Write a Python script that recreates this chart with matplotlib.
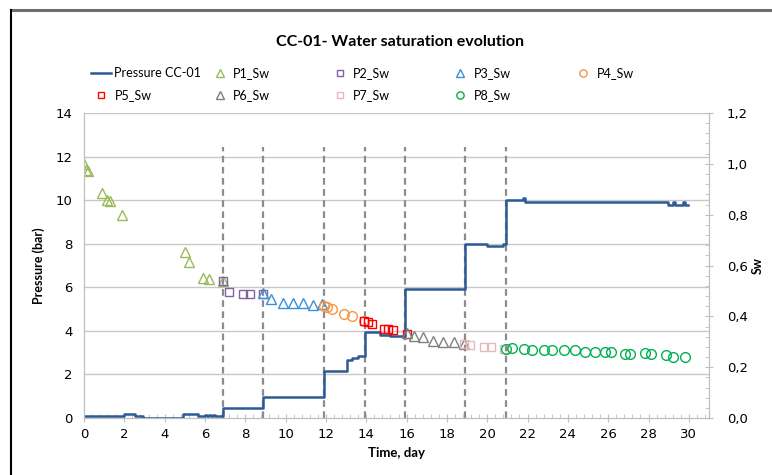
import matplotlib
matplotlib.use("Agg")
import matplotlib.pyplot as plt
from matplotlib.lines import Line2D
from matplotlib.ticker import MultipleLocator, FuncFormatter

# pressure record (bar), step curve
time_p = [0, 2.0, 2.55, 2.95, 4.9, 5.65, 6.0, 6.08, 6.2, 6.28, 6.4, 6.48, 6.88, 8.88,
          11.88, 13.02, 13.3, 13.6, 13.92, 14.7, 15.2, 15.92, 18.88, 20.0, 20.8, 20.92,
          21.75, 21.85, 28.95, 29.2, 29.3, 29.7, 29.8, 29.95]
pressure = [0.1, 0.2, 0.1, 0.0, 0.2, 0.1, 0.15, 0.1, 0.15, 0.1, 0.15, 0.1, 0.48, 0.96,
            2.16, 2.66, 2.75, 2.86, 3.95, 3.8, 3.75, 5.9, 7.98, 7.88, 8.0, 10.0,
            10.1, 9.9, 9.8, 9.9, 9.8, 9.9, 9.8, 9.8]

# pressure step changes (dashed markers)
events = [6.88, 8.88, 11.88, 13.92, 15.92, 18.88, 20.92]

# water saturation per stage
p1_t = [0.0, 0.1, 0.2, 0.88, 1.12, 1.29, 1.88, 5.0, 5.2, 5.88, 6.21, 6.87]
p1_sw = [0.999, 0.975, 0.973, 0.886, 0.857, 0.854, 0.797, 0.653, 0.614, 0.552, 0.545, 0.539]
p2_t = [6.87, 7.19, 7.87, 8.23, 8.87]
p2_sw = [0.539, 0.495, 0.489, 0.489, 0.489]
p3_t = [8.87, 9.29, 9.85, 10.36, 10.85, 11.34, 11.78]
p3_sw = [0.491, 0.468, 0.451, 0.451, 0.451, 0.445, 0.447]
p4_t = [11.9, 12.03, 12.3, 12.9, 13.29, 13.9]
p4_sw = [0.441, 0.438, 0.430, 0.411, 0.400, 0.381]
p5_t = [13.9, 14.1, 14.3, 14.87, 15.1, 15.35, 16.0]
p5_sw = [0.383, 0.376, 0.369, 0.350, 0.350, 0.345, 0.332]
p6_t = [16.0, 16.36, 16.82, 17.32, 17.83, 18.34, 18.85]
p6_sw = [0.333, 0.324, 0.317, 0.304, 0.299, 0.299, 0.291]
p7_t = [18.85, 19.14, 19.83, 20.19, 20.85]
p7_sw = [0.291, 0.286, 0.279, 0.279, 0.273]
p8_t = [20.95, 21.25, 21.84, 22.24, 22.82, 23.22, 23.83, 24.33, 24.85, 25.35, 25.85,
        26.15, 26.84, 27.1, 27.83, 28.1, 28.85, 29.23, 29.83]
p8_sw = [0.273, 0.274, 0.270, 0.266, 0.266, 0.266, 0.266, 0.266, 0.261, 0.261, 0.261,
         0.260, 0.253, 0.253, 0.255, 0.252, 0.248, 0.241, 0.241]

series = [
    ("P1_Sw", p1_t, p1_sw, "^", "#9BBB59", 7),
    ("P2_Sw", p2_t, p2_sw, "s", "#8064A2", 5.5),
    ("P3_Sw", p3_t, p3_sw, "^", "#3A8FD9", 7),
    ("P4_Sw", p4_t, p4_sw, "o", "#F79646", 7),
    ("P5_Sw", p5_t, p5_sw, "s", "#FF0000", 5.5),
    ("P6_Sw", p6_t, p6_sw, "^", "#7F7F7F", 7),
    ("P7_Sw", p7_t, p7_sw, "s", "#E6B9B8", 5.5),
    ("P8_Sw", p8_t, p8_sw, "o", "#00B050", 7),
]

txt_font = "Lato"
grid_c = "#C8C8C8"

fig = plt.figure(figsize=(7.72, 4.75), dpi=100)
ax = fig.add_axes([84/772, 57/475, 625/772, 305/475])
ax2 = ax.twinx()

# grid + event lines
for yy in range(2, 15, 2):
    ax.axhline(yy, color=grid_c, lw=1, zorder=0)
for ev in events:
    ax.plot([ev, ev], [0, 12.45], color="#8C8C8C", lw=1.6, ls=(0, (3, 2)), zorder=1)

line_p, = ax.plot(time_p, pressure, drawstyle="steps-post", color="#2C5A94", lw=1.8,
                  label="Pressure CC-01", zorder=3)

handles = {}
for name, t, sw, mk, col, ms in series:
    h, = ax2.plot(t, sw, ls="none", marker=mk, ms=ms, mfc="none", mec=col, mew=1.0, label=name)
    handles[name] = h

ax.set_xlim(0, 31)
ax.set_ylim(0, 14)
ax2.set_ylim(0, 1.2)
ax.xaxis.set_major_locator(MultipleLocator(2))
ax.xaxis.set_minor_locator(MultipleLocator(0.4))
ax.yaxis.set_major_locator(MultipleLocator(2))
ax2.yaxis.set_major_locator(MultipleLocator(0.2))
ax2.yaxis.set_minor_locator(MultipleLocator(0.04))
ax2.yaxis.set_major_formatter(FuncFormatter(lambda v, p: f"{v:.1f}".replace(".", ",")))

for a in (ax, ax2):
    a.spines["top"].set_visible(False)
    for s in ("left", "right", "bottom"):
        a.spines[s].set_color("#BFBFBF")
ax.tick_params(axis="y", length=0, labelsize=9.5, pad=8, colors="black")
ax.tick_params(axis="x", which="major", direction="inout", length=6, color="#BFBFBF", labelsize=9.5, pad=4)
ax.tick_params(axis="x", which="minor", direction="in", length=3, color="#BFBFBF")
ax2.tick_params(axis="y", which="major", direction="inout", length=6, color="#BFBFBF", labelsize=9.5, pad=10)
ax2.tick_params(axis="y", which="minor", direction="in", length=3, color="#BFBFBF")

ax.set_ylabel("Pressure (bar)", fontfamily=txt_font, fontweight="bold", fontsize=9)
ax.yaxis.set_label_coords(-0.062, 0.5)
ax2.set_ylabel("Sw", fontfamily=txt_font, fontweight="bold", fontsize=9)
ax2.yaxis.set_label_coords(1.069, 0.5)
ax.set_xlabel("Time, day", fontfamily=txt_font, fontweight="bold", fontsize=9.5)
ax.xaxis.set_label_coords(0.5, -0.095)

fig.text(400/772, 1 - 42/475, "CC-01- Water saturation evolution", ha="center", va="center",
         fontfamily=txt_font, fontweight="bold", fontsize=11.5)

# legend, laid out column by column
cols = [
    (85, [line_p, handles["P5_Sw"]]),
    (204, [handles["P1_Sw"], handles["P6_Sw"]]),
    (324, [handles["P2_Sw"], handles["P7_Sw"]]),
    (444, [handles["P3_Sw"], handles["P8_Sw"]]),
    (567, [handles["P4_Sw"]]),
]
for x0, hs in cols:
    fig.legend(handles=hs, labels=[h.get_label() for h in hs], loc="upper left",
               bbox_to_anchor=(x0/772, 1 - 61/475), frameon=False, borderpad=0,
               handlelength=1.6, handletextpad=0.25, labelspacing=0.8,
               prop={"family": txt_font, "size": 9}, markerscale=0.75)

# outer frame of the chart area
fig.add_artist(Line2D([11/772, 1], [1 - 10/475, 1 - 10/475], color="#6E6E6E", lw=2.2))
fig.add_artist(Line2D([11/772, 11/772], [0, 1 - 10/475], color="black", lw=1.5))

fig.savefig("out.png", dpi=100)
